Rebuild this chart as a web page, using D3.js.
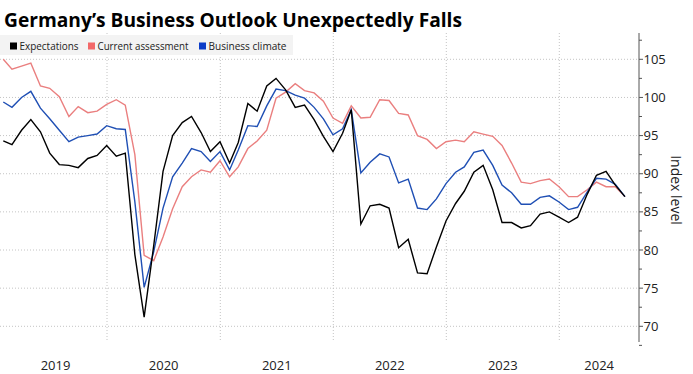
<!DOCTYPE html>
<html>
<head>
<meta charset="utf-8">
<script src="https://cdn.jsdelivr.net/npm/d3@7"></script>
<style>
  body { margin: 0; background: #fff; }
  text { font-family: "Open Sans", sans-serif; }
</style>
</head>
<body>
<div id="chart-area"></div>
<script>

// Ifo survey, monthly, Jan 2019 - Jul 2024 (month-end)
var years = [2019, 2020, 2021, 2022, 2023, 2024];

var expectations = [
  94.3, 93.8, 95.7, 97.1, 95.5, 92.7, 91.2, 91.1, 90.8, 92.0, 92.4, 93.7,
  92.3, 92.7, 79.4, 71.2, 80.6, 90.3, 95.0, 96.7, 97.5, 95.4, 92.9, 94.2,
  91.4, 94.1, 99.2, 98.2, 101.5, 102.5, 101.0, 98.7, 99.0, 97.1, 94.9, 92.9,
  95.3, 98.4, 83.4, 85.8, 86.0, 85.5, 80.3, 81.4, 77.0, 76.9, 80.4, 83.8,
  86.1, 87.7, 90.2, 91.1, 87.9, 83.6, 83.6, 82.9, 83.2, 84.7, 85.0, 84.3,
  83.6, 84.3, 87.3, 89.8, 90.3, 88.5, 87.0
];

var currentAssessment = [
  105.0, 103.7, 104.1, 104.5, 101.5, 101.2, 100.1, 97.5, 98.8, 98.0, 98.2, 99.1,
  99.7, 99.0, 92.5, 79.3, 78.6, 81.7, 85.4, 88.3, 89.6, 90.5, 90.2, 91.7,
  89.6, 90.9, 93.3, 94.3, 95.7, 99.9, 100.7, 101.8, 100.9, 100.6, 99.5, 97.3,
  96.6, 98.9, 97.3, 97.4, 99.7, 99.6, 97.9, 97.7, 95.0, 94.5, 93.3, 94.2,
  94.4, 94.2, 95.5, 95.2, 94.9, 93.7, 91.4, 88.9, 88.7, 89.1, 89.3, 88.3,
  87.0, 87.0, 87.9, 88.9, 88.3, 88.3, 87.0
];

var businessClimate = [
  99.4, 98.7, 100.0, 100.8, 98.6, 97.2, 95.7, 94.2, 94.8, 95.0, 95.2, 96.3,
  95.9, 95.8, 86.3, 75.1, 79.8, 85.5, 89.6, 91.4, 93.3, 92.9, 91.6, 92.9,
  90.5, 93.1, 96.3, 96.2, 98.9, 101.1, 100.9, 100.3, 99.9, 98.7, 97.2, 95.1,
  95.9, 98.4, 90.1, 91.5, 92.6, 92.2, 88.8, 89.3, 85.5, 85.3, 86.7, 88.7,
  90.2, 90.9, 92.8, 93.1, 91.1, 88.5, 87.5, 86.0, 86.0, 86.9, 87.1, 86.3,
  85.3, 85.6, 87.6, 89.4, 89.3, 88.6, 87.0
];

var yTicks = [70, 75, 80, 85, 90, 95, 100, 105];

var series = [
  { name: "Expectations", values: expectations, color: "#000000", key: "#000000" },
  { name: "Current assessment", values: currentAssessment, color: "#ea7f7f", key: "#f26868" },
  { name: "Business climate", values: businessClimate, color: "#1f4fb4", key: "#0b3cc8" }
];

// month-end dates
var dates = expectations.map(function(d, i) {
  return new Date(2019, i + 1, 0);
});

var W = 693, H = 374;
var plot = { left: 0, right: 639, top: 33, bottom: 342 };

var svg = d3.select("#chart-area")
  .append("svg")
    .attr("width", W)
    .attr("height", H);

var x = d3.scaleTime()
  .domain([new Date(2020, 0, 1), new Date(2024, 0, 1)])
  .range([107, 559.3]);

var y = d3.scaleLinear()
  .domain([70, 105])
  .range([326.3, 59.3]);

// Title
svg.append("text")
  .attr("x", 4)
  .attr("y", 27)
  .attr("font-weight", "bold")
  .attr("font-size", "20px")
  .attr("fill", "#000")
  .attr("textLength", 458)
  .attr("lengthAdjust", "spacingAndGlyphs")
  .text("Germany’s Business Outlook Unexpectedly Falls");

// Horizontal grid
svg.append("g")
  .selectAll("line")
  .data(yTicks)
  .enter()
  .append("line")
    .attr("x1", plot.left)
    .attr("x2", plot.right)
    .attr("y1", function(d) { return y(d); })
    .attr("y2", function(d) { return y(d); })
    .attr("stroke", "#c4c4c4")
    .attr("stroke-width", 1)
    .attr("stroke-dasharray", "1,2");

// Vertical grid at year starts
var yearStarts = years.slice(1).map(function(yr) { return new Date(yr, 0, 1); });
svg.append("g")
  .selectAll("line")
  .data(yearStarts)
  .enter()
  .append("line")
    .attr("x1", function(d) { return x(d); })
    .attr("x2", function(d) { return x(d); })
    .attr("y1", plot.top)
    .attr("y2", plot.bottom)
    .attr("stroke", "#c4c4c4")
    .attr("stroke-width", 1)
    .attr("stroke-dasharray", "1,2");

// Legend
var legend = svg.append("g");
legend.append("rect")
  .attr("x", 0)
  .attr("y", 35)
  .attr("width", 293)
  .attr("height", 20)
  .attr("fill", "#f3f3f3");

var legendX = [10, 88, 199];
var legendW = [59, 91, 78];
series.forEach(function(s, i) {
  legend.append("rect")
    .attr("x", legendX[i])
    .attr("y", 42.5)
    .attr("width", 7)
    .attr("height", 7)
    .attr("fill", s.key);
  legend.append("text")
    .attr("x", legendX[i] + 9.5)
    .attr("y", 50)
    .attr("font-size", "11px")
    .attr("fill", "#222")
    .attr("textLength", legendW[i])
    .attr("lengthAdjust", "spacingAndGlyphs")
    .text(s.name);
});

// Lines
var line = d3.line()
  .x(function(d, i) { return x(dates[i]); })
  .y(function(d) { return y(d); });

// draw red first, then blue, then black on top
[series[1], series[2], series[0]].forEach(function(s) {
  svg.append("path")
    .datum(s.values)
    .attr("fill", "none")
    .attr("stroke", s.color)
    .attr("stroke-width", 1.4)
    .attr("d", line);
});

// Right axis
var yAxis = svg.append("g")
  .attr("transform", "translate(" + plot.right + ",0)");

yAxis.append("line")
  .attr("x1", 0).attr("x2", 0)
  .attr("y1", plot.top).attr("y2", plot.bottom)
  .attr("stroke", "#555")
  .attr("stroke-width", 1);

var minorTicks = yTicks.map(function(t) { return t - 2.5; }).concat([107.5]);
yAxis.selectAll(".minor")
  .data(minorTicks)
  .enter()
  .append("line")
    .attr("class", "minor")
    .attr("x1", 0).attr("x2", 3)
    .attr("y1", function(d) { return y(d); })
    .attr("y2", function(d) { return y(d); })
    .attr("stroke", "#555");

yAxis.selectAll(".major")
  .data(yTicks)
  .enter()
  .append("line")
    .attr("class", "major")
    .attr("x1", 0).attr("x2", 4)
    .attr("y1", function(d) { return y(d); })
    .attr("y2", function(d) { return y(d); })
    .attr("stroke", "#555");

yAxis.selectAll(".lbl")
  .data(yTicks)
  .enter()
  .append("text")
    .attr("class", "lbl")
    .attr("x", 4.5)
    .attr("y", function(d) { return y(d); })
    .attr("dy", "0.35em")
    .attr("font-size", "13px")
    .attr("fill", "#222")
    .text(function(d) { return d; });

svg.append("text")
  .attr("transform", "translate(671,190) rotate(90)")
  .attr("text-anchor", "middle")
  .attr("font-size", "14px")
  .attr("fill", "#222")
  .text("Index level");

// Year labels, centred in the visible part of each year
var xLeft = 4, xRight = plot.right;
svg.append("g")
  .selectAll("text")
  .data(years)
  .enter()
  .append("text")
    .attr("x", function(yr) {
      var a = Math.max(xLeft, x(new Date(yr, 0, 1)));
      var b = Math.min(xRight, x(new Date(yr + 1, 0, 1)));
      return (a + b) / 2;
    })
    .attr("y", 370)
    .attr("text-anchor", "middle")
    .attr("font-size", "13px")
    .attr("fill", "#222")
    .text(function(yr) { return yr; });

// source mark, cut by the bottom edge as in the original
svg.append("text")
  .attr("x", 598)
  .attr("y", 387)
  .attr("font-size", "17px")
  .attr("fill", "#999")
  .text("Bloomberg");

</script>
</body>
</html>
